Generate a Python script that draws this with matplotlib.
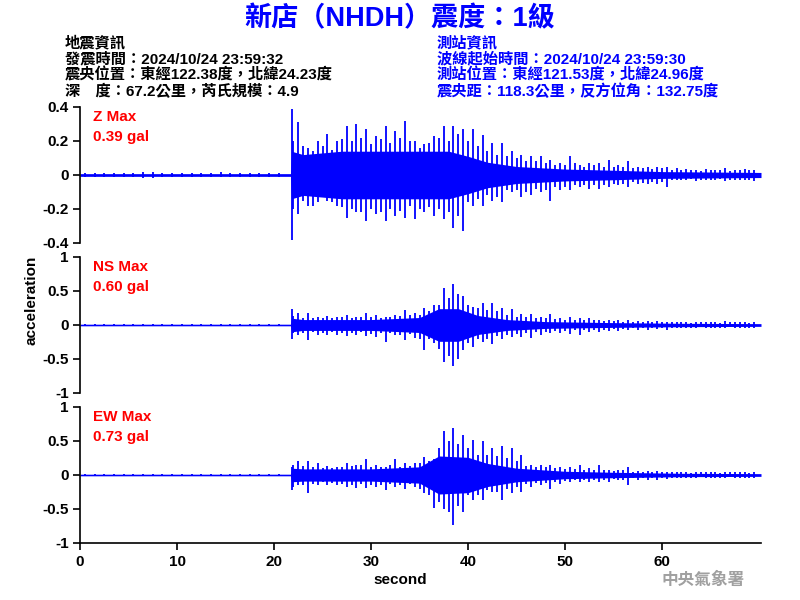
import numpy as np
import matplotlib
matplotlib.use("Agg")
from matplotlib import pyplot as plt

plt.rcParams['font.family'] = ['Liberation Sans', 'Noto Sans CJK TC', 'DejaVu Sans']
plt.rcParams['axes.unicode_minus'] = False

BLUE = "#0000ff"

# times (s) at which the per-second peaks are drawn; onset ~21.8 s
peak_t = np.r_[np.arange(0.5, 21, 1), 21.9, np.arange(22.5, 70, 1)]
# second, smaller peak inside each second after the onset
peak2_t = np.arange(22.0, 70, 1)

# Z component: per-second max / min (gal)
z_hi = [0.012, 0.010, 0.012, 0.014, 0.010, 0.012, 0.020, 0.018, 0.014, 0.012,
        0.010, 0.012, 0.014, 0.012, 0.016, 0.012, 0.014, 0.012, 0.012, 0.014, 0.012,
        0.39, 0.31, 0.16, 0.20, 0.24, 0.20, 0.29, 0.30, 0.27, 0.23,
        0.29, 0.26, 0.32, 0.20, 0.18, 0.23, 0.29, 0.29, 0.27, 0.27,
        0.235, 0.19, 0.19, 0.14, 0.12, 0.11, 0.11, 0.09, 0.07, 0.11,
        0.06, 0.07, 0.07, 0.09, 0.06, 0.08, 0.05, 0.05, 0.05, 0.05,
        0.04, 0.035, 0.03, 0.035, 0.03, 0.04, 0.03, 0.035, 0.03]
z_lo = [-0.012, -0.014, -0.010, -0.012, -0.014, -0.012, -0.018, -0.020, -0.014, -0.012,
        -0.012, -0.010, -0.014, -0.012, -0.014, -0.012, -0.012, -0.014, -0.012, -0.012, -0.012,
        -0.38, -0.23, -0.18, -0.16, -0.15, -0.18, -0.25, -0.22, -0.27, -0.23,
        -0.27, -0.24, -0.25, -0.26, -0.22, -0.24, -0.26, -0.31, -0.33, -0.18,
        -0.18, -0.15, -0.16, -0.10, -0.13, -0.12, -0.10, -0.15, -0.09, -0.09,
        -0.07, -0.08, -0.08, -0.07, -0.06, -0.07, -0.05, -0.05, -0.05, -0.07,
        -0.03, -0.03, -0.035, -0.03, -0.03, -0.035, -0.03, -0.03, -0.035]
z_hi2 = [0.20, 0.17, 0.14, 0.17, 0.15, 0.21, 0.20, 0.22, 0.18, 0.21,
         0.19, 0.22, 0.20, 0.16, 0.19, 0.22, 0.20, 0.24, 0.20, 0.17,
         0.14, 0.12, 0.11, 0.10, 0.08, 0.08, 0.07, 0.06, 0.06, 0.07,
         0.05, 0.06, 0.05, 0.05, 0.05, 0.04, 0.04, 0.035, 0.04, 0.03,
         0.03, 0.03, 0.025, 0.03, 0.03, 0.025, 0.03, 0.03]
z_lo2 = [-0.20, -0.15, -0.18, -0.13, -0.16, -0.19, -0.20, -0.22, -0.20, -0.22,
         -0.20, -0.21, -0.18, -0.20, -0.19, -0.20, -0.22, -0.24, -0.16, -0.14,
         -0.12, -0.13, -0.09, -0.09, -0.10, -0.08, -0.09, -0.07, -0.07, -0.06,
         -0.06, -0.06, -0.06, -0.05, -0.05, -0.04, -0.045, -0.04, -0.04, -0.03,
         -0.03, -0.025, -0.03, -0.03, -0.025, -0.03, -0.03, -0.03]
z_core_t = [0, 21.7, 21.8, 23, 27, 33, 38, 40, 42, 45, 50, 55, 60, 70.2]
z_core = [0.008, 0.008, 0.14, 0.12, 0.14, 0.14, 0.14, 0.11, 0.075, 0.05, 0.035, 0.028, 0.02, 0.015]

# NS component
ns_hi = [0.015, 0.012, 0.015, 0.012, 0.018, 0.012, 0.015, 0.012, 0.015, 0.012,
         0.012, 0.015, 0.012, 0.012, 0.015, 0.012, 0.012, 0.012, 0.015, 0.012, 0.012,
         0.235, 0.17, 0.17, 0.12, 0.13, 0.12, 0.14, 0.12, 0.18, 0.15,
         0.12, 0.15, 0.22, 0.17, 0.245, 0.29, 0.54, 0.60, 0.42, 0.27,
         0.32, 0.33, 0.245, 0.23, 0.16, 0.16, 0.12, 0.16, 0.10, 0.12,
         0.10, 0.10, 0.08, 0.07, 0.08, 0.07, 0.06, 0.06, 0.06, 0.05,
         0.05, 0.05, 0.045, 0.05, 0.045, 0.06, 0.05, 0.045, 0.05]
ns_lo = [-0.015, -0.015, -0.012, -0.015, -0.012, -0.015, -0.012, -0.015, -0.012, -0.015,
         -0.012, -0.012, -0.015, -0.012, -0.012, -0.015, -0.012, -0.015, -0.012, -0.012, -0.012,
         -0.20, -0.15, -0.22, -0.15, -0.14, -0.15, -0.16, -0.15, -0.16, -0.17,
         -0.245, -0.15, -0.22, -0.19, -0.37, -0.27, -0.54, -0.61, -0.37, -0.32,
         -0.25, -0.28, -0.20, -0.18, -0.18, -0.19, -0.14, -0.12, -0.12, -0.13,
         -0.15, -0.10, -0.10, -0.09, -0.09, -0.08, -0.07, -0.07, -0.06, -0.07,
         -0.05, -0.05, -0.05, -0.045, -0.05, -0.05, -0.045, -0.05, -0.05]
ns_hi2 = [0.13, 0.11, 0.10, 0.11, 0.10, 0.12, 0.11, 0.12, 0.12, 0.11,
          0.12, 0.13, 0.15, 0.14, 0.20, 0.30, 0.40, 0.45, 0.30, 0.25,
          0.22, 0.20, 0.15, 0.12, 0.12, 0.10, 0.10, 0.09, 0.08, 0.08,
          0.07, 0.07, 0.06, 0.06, 0.05, 0.05, 0.05, 0.045, 0.04, 0.04,
          0.04, 0.035, 0.04, 0.04, 0.035, 0.04, 0.04, 0.035]
ns_lo2 = [-0.12, -0.12, -0.10, -0.12, -0.10, -0.12, -0.12, -0.11, -0.13, -0.12,
          -0.12, -0.15, -0.13, -0.20, -0.20, -0.35, -0.45, -0.50, -0.27, -0.20,
          -0.20, -0.16, -0.14, -0.13, -0.12, -0.10, -0.10, -0.09, -0.09, -0.08,
          -0.08, -0.07, -0.07, -0.06, -0.06, -0.05, -0.05, -0.05, -0.05, -0.04,
          -0.04, -0.04, -0.035, -0.04, -0.04, -0.035, -0.04, -0.04]
ns_core_t = [0, 21.7, 21.8, 23, 30, 35, 37, 39, 41, 44, 48, 55, 62, 70.2]
ns_core = [0.012, 0.012, 0.10, 0.08, 0.08, 0.11, 0.24, 0.24, 0.14, 0.08, 0.05, 0.035, 0.025, 0.02]

# EW component
ew_hi = [0.015, 0.012, 0.015, 0.012, 0.015, 0.018, 0.012, 0.015, 0.012, 0.015,
         0.012, 0.015, 0.012, 0.015, 0.012, 0.012, 0.015, 0.012, 0.015, 0.012, 0.012,
         0.12, 0.20, 0.20, 0.17, 0.13, 0.12, 0.17, 0.15, 0.235, 0.15,
         0.12, 0.235, 0.17, 0.17, 0.27, 0.235, 0.65, 0.69, 0.59, 0.51,
         0.50, 0.39, 0.43, 0.39, 0.29, 0.15, 0.15, 0.15, 0.12, 0.12,
         0.15, 0.10, 0.14, 0.08, 0.07, 0.12, 0.065, 0.065, 0.06, 0.05,
         0.05, 0.05, 0.05, 0.045, 0.05, 0.05, 0.05, 0.045, 0.05]
ew_lo = [-0.015, -0.012, -0.015, -0.015, -0.012, -0.015, -0.018, -0.012, -0.015, -0.012,
         -0.015, -0.012, -0.015, -0.012, -0.012, -0.015, -0.012, -0.015, -0.012, -0.015, -0.012,
         -0.22, -0.15, -0.27, -0.15, -0.14, -0.15, -0.17, -0.19, -0.19, -0.17,
         -0.22, -0.17, -0.20, -0.17, -0.26, -0.48, -0.50, -0.74, -0.55, -0.37,
         -0.37, -0.25, -0.37, -0.27, -0.25, -0.17, -0.15, -0.20, -0.13, -0.10,
         -0.10, -0.10, -0.10, -0.10, -0.08, -0.14, -0.07, -0.07, -0.07, -0.06,
         -0.05, -0.05, -0.05, -0.05, -0.045, -0.05, -0.05, -0.05, -0.045]
ew_hi2 = [0.15, 0.13, 0.12, 0.11, 0.10, 0.12, 0.13, 0.14, 0.12, 0.12,
          0.14, 0.12, 0.13, 0.18, 0.20, 0.40, 0.50, 0.45, 0.40, 0.30,
          0.30, 0.28, 0.25, 0.20, 0.13, 0.12, 0.12, 0.10, 0.09, 0.09,
          0.08, 0.08, 0.07, 0.06, 0.07, 0.05, 0.05, 0.05, 0.045, 0.04,
          0.04, 0.035, 0.04, 0.04, 0.035, 0.04, 0.04, 0.035]
ew_lo2 = [-0.17, -0.14, -0.13, -0.11, -0.12, -0.13, -0.14, -0.13, -0.14, -0.15,
          -0.13, -0.15, -0.13, -0.20, -0.30, -0.40, -0.55, -0.45, -0.30, -0.30,
          -0.22, -0.25, -0.20, -0.18, -0.13, -0.12, -0.12, -0.10, -0.09, -0.08,
          -0.08, -0.08, -0.07, -0.06, -0.08, -0.05, -0.05, -0.05, -0.05, -0.04,
          -0.04, -0.04, -0.035, -0.04, -0.04, -0.035, -0.04, -0.04]
ew_core_t = [0, 21.7, 21.8, 23, 30, 35, 37, 40, 42, 45, 50, 55, 62, 70.2]
ew_core = [0.012, 0.012, 0.10, 0.09, 0.09, 0.12, 0.28, 0.26, 0.17, 0.10, 0.055, 0.04, 0.025, 0.02]

channels = ["Z", "NS", "EW"]
max_gal = ["0.39", "0.60", "0.73"]
y_ticks = [[-0.4, -0.2, 0, 0.2, 0.4], [-1, -0.5, 0, 0.5, 1], [-1, -0.5, 0, 0.5, 1]]
y_labels = [["-0.4", "-0.2", "0", "0.2", "0.4"], ["-1", "-0.5", "0", "0.5", "1"],
            ["-1", "-0.5", "0", "0.5", "1"]]
x_ticks = [0, 10, 20, 30, 40, 50, 60]

traces = [(z_hi, z_lo, z_hi2, z_lo2, z_core_t, z_core),
          (ns_hi, ns_lo, ns_hi2, ns_lo2, ns_core_t, ns_core),
          (ew_hi, ew_lo, ew_hi2, ew_lo2, ew_core_t, ew_core)]

fig = plt.figure(figsize=(8, 6), dpi=100)

# panel top / bottom in pixels
tops = [107, 257, 407]
bots = [243, 393, 543]

for i in range(3):
    hi, lo, hi2, lo2, ct, cv = traces[i]
    ax = fig.add_axes([80 / 800, 1 - bots[i] / 600, 681 / 800, (bots[i] - tops[i]) / 600])
    ct = np.array(ct)
    cv = np.array(cv)
    ax.fill_between(ct, -cv, cv, color=BLUE, lw=0)
    ax.vlines(peak_t, lo, hi, color=BLUE, lw=1.3)
    ax.vlines(peak2_t, lo2, hi2, color=BLUE, lw=1.3)
    ax.set_xlim(0, 70.2)
    lim = y_ticks[i][-1]
    ax.set_ylim(-lim, lim)
    ax.set_yticks(y_ticks[i])
    ax.set_yticklabels(y_labels[i], fontsize=11, fontweight="bold")
    for s in ["top", "right"]:
        ax.spines[s].set_visible(False)
    ax.spines["left"].set_linewidth(1.2)
    ax.tick_params(axis="y", length=5, width=1.2, pad=3)
    if i < 2:
        ax.spines["bottom"].set_visible(False)
        ax.set_xticks([])
    else:
        ax.spines["bottom"].set_linewidth(1.2)
        ax.set_xticks(x_ticks)
        ax.set_xticklabels([str(t) for t in x_ticks], fontsize=11, fontweight="bold")
        ax.tick_params(axis="x", length=5, width=1.2, pad=4)
    fig.text(93 / 800, 1 - (tops[i] + 10) / 600, channels[i] + " Max", color="red",
             fontsize=11, fontweight="bold", va="center", ha="left")
    fig.text(93 / 800, 1 - (tops[i] + 30) / 600, max_gal[i] + " gal", color="red",
             fontsize=11, fontweight="bold", va="center", ha="left")

fig.text(0.5, 1 - 19 / 600, "新店（NHDH）震度：1級", color=BLUE, fontsize=19.5,
         fontweight="bold", ha="center", va="center")

left_info = ["地震資訊", "發震時間：2024/10/24 23:59:32",
             "震央位置：東經122.38度，北緯24.23度", "深　度：67.2公里，芮氏規模：4.9"]
right_info = ["測站資訊", "波線起始時間：2024/10/24 23:59:30",
              "測站位置：東經121.53度，北緯24.96度", "震央距：118.3公里，反方位角：132.75度"]
for k in range(4):
    y = 1 - (43 + 16 * k) / 600
    fig.text(65 / 800, y, left_info[k], color="black", fontsize=11, fontweight="bold",
             ha="left", va="center")
    fig.text(437 / 800, y, right_info[k], color=BLUE, fontsize=11, fontweight="bold",
             ha="left", va="center")

fig.text(32 / 800, 0.5, "acceleration", rotation=90, fontsize=11, fontweight="bold",
         ha="center", va="center")
fig.text(0.5, 1 - 580 / 600, "second", fontsize=11, fontweight="bold",
         ha="center", va="center")
fig.text(703 / 800, 1 - 580 / 600, "中央氣象署", color="#a0a0a0", fontsize=12,
         fontweight="bold", ha="center", va="center")

fig.savefig("out.png", dpi=100)
